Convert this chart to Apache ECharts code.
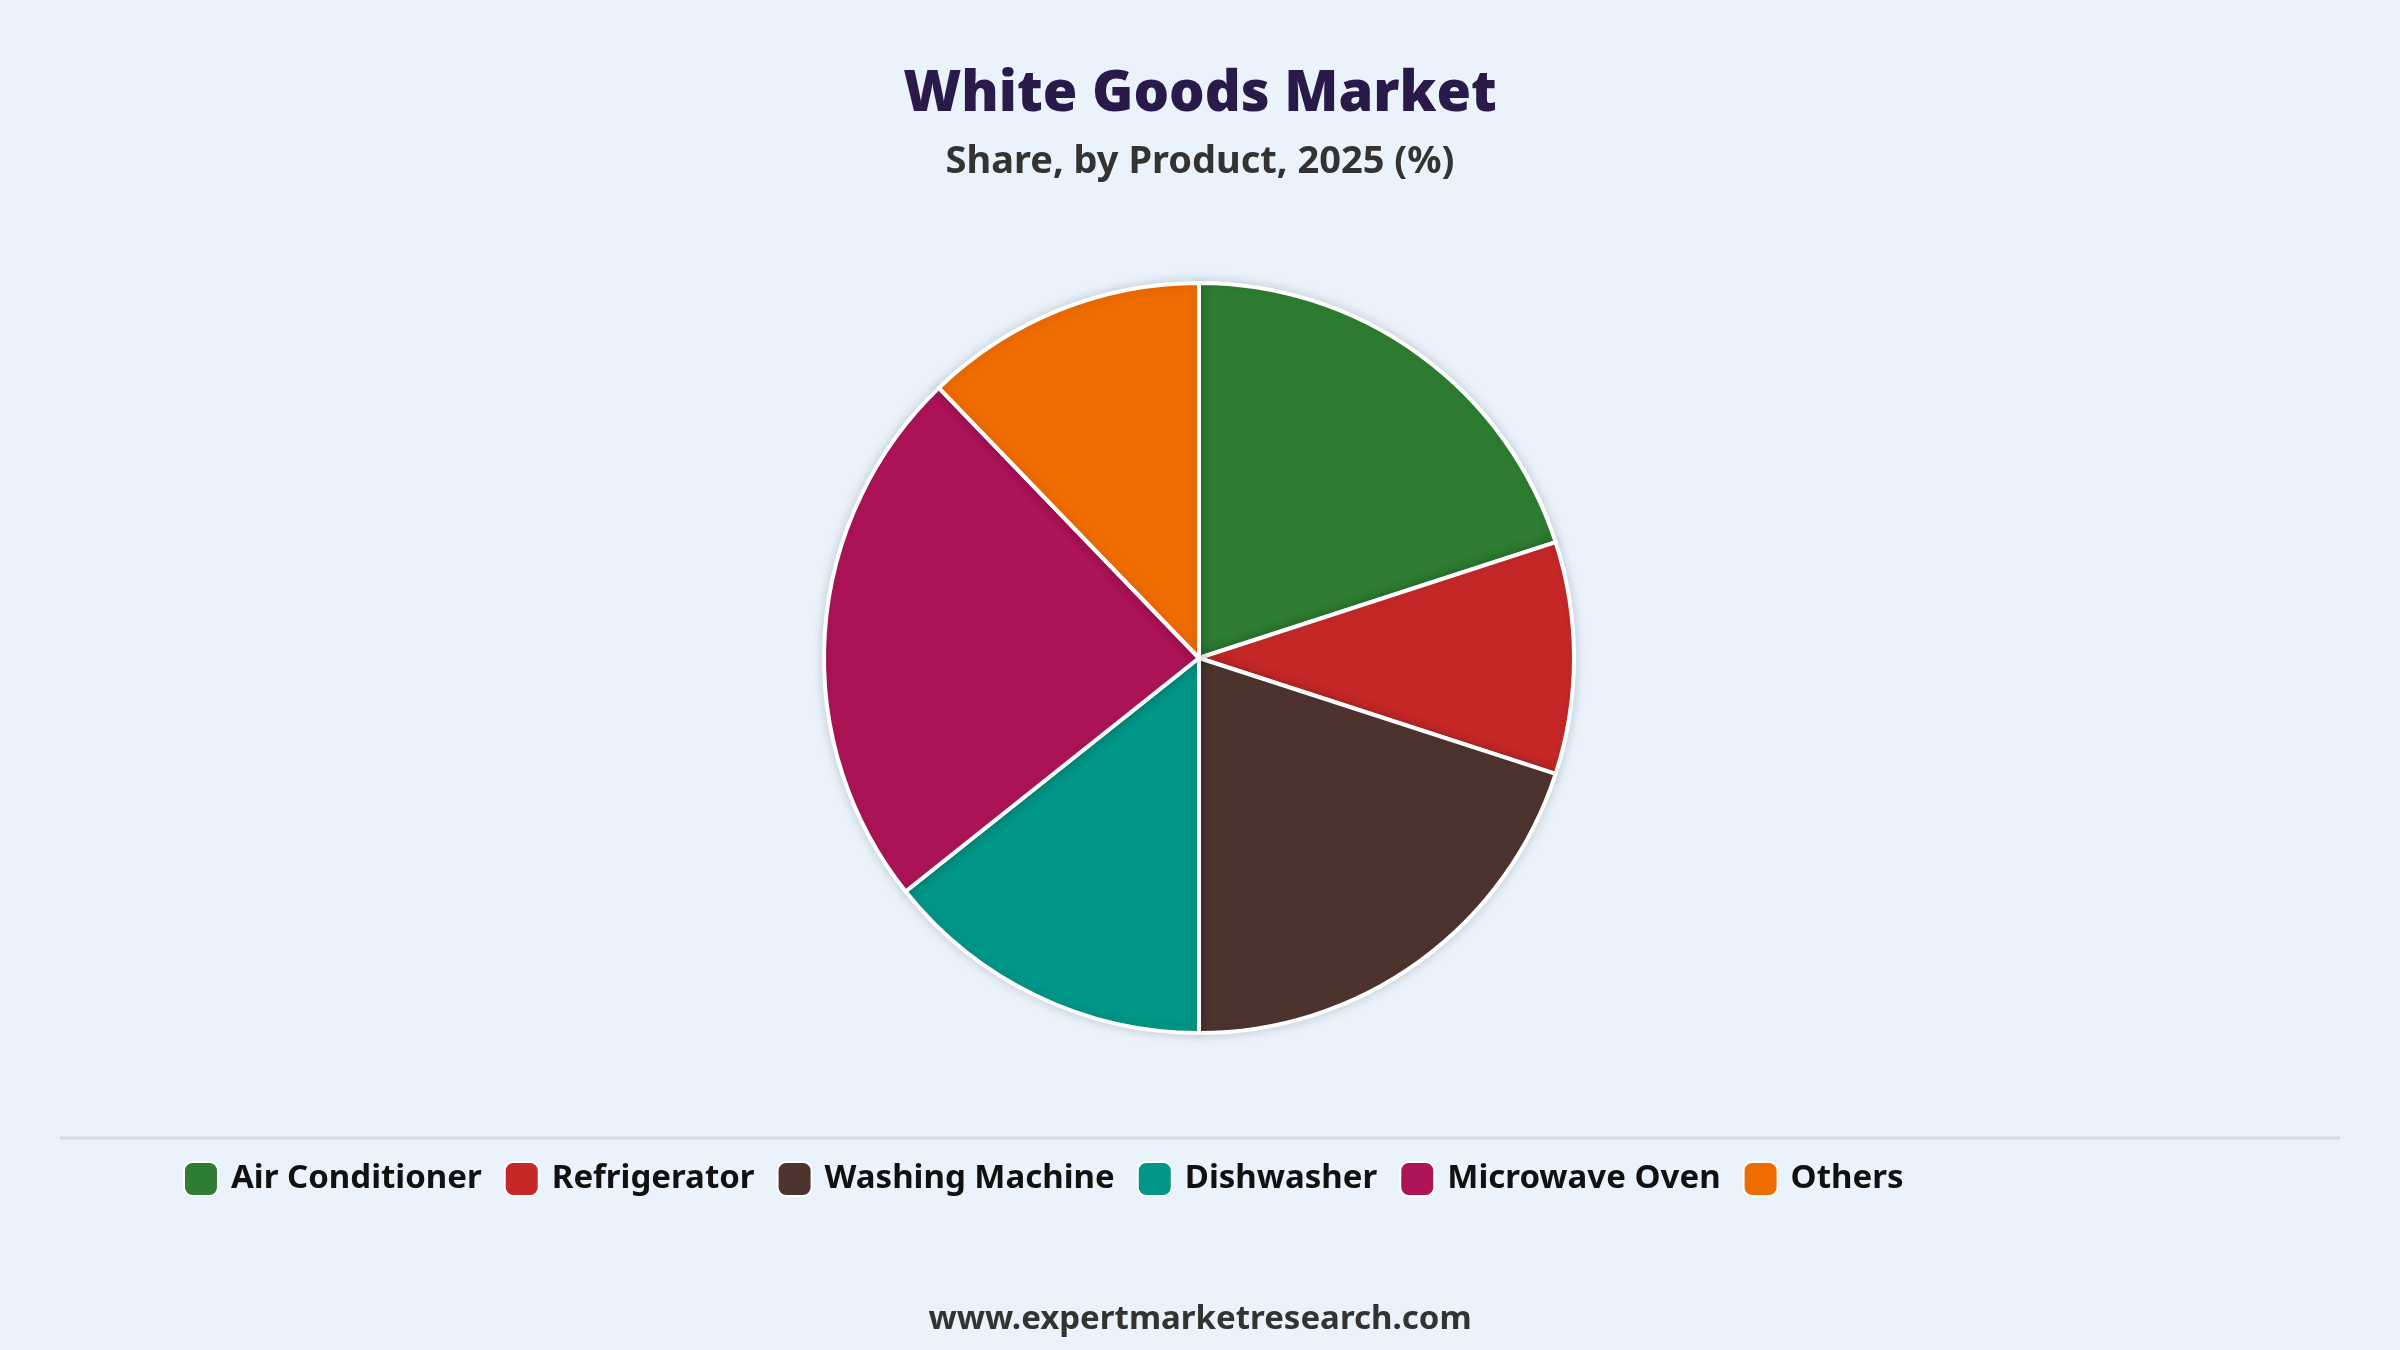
<!DOCTYPE html>
<html><head><meta charset="utf-8">
<script src="https://cdn.jsdelivr.net/npm/echarts@6/dist/echarts.min.js"></script>
<style>html,body{margin:0;padding:0;background:#eaf2fb;}#c{width:2400px;height:1350px;}</style>
</head><body><div id="c"></div>
<script>
const categories = ["Air Conditioner","Refrigerator","Washing Machine","Dishwasher","Microwave Oven","Others"];
const shares = [20, 10, 20, 14.3, 23.5, 12.2];
const colors = ["#2e7d32","#c62828","#4e342e","#009688","#ad1457","#ef6c00"];
const chart = echarts.init(document.getElementById('c'));
chart.setOption({
  backgroundColor:'#eaf2fb',
  color: colors,
  title:[
    {text:'White Goods Market',left:'center',top:62,textStyle:{fontFamily:'Noto Sans',fontWeight:900,fontSize:56,color:'#2a1a4a'}},
    {text:'Share, by Product, 2025 (%)',left:'center',top:138,textStyle:{fontFamily:'Noto Sans',fontWeight:'bold',fontSize:38,color:'#333'}},
    {text:'www.expertmarketresearch.com',left:'center',top:1298,textStyle:{fontFamily:'Noto Sans',fontWeight:'bold',fontSize:33,color:'#333'}}
  ],
  legend:{
    left:178,top:1156,width:2100,orient:'horizontal',
    icon:'roundRect',itemWidth:34,itemHeight:34,itemGap:22,
    data:categories,
    formatter:'{a|{name}}',
    textStyle:{fontFamily:'Noto Sans',fontWeight:'bold',fontSize:33,color:'#111',
      rich:{a:{width:346,fontFamily:'Noto Sans',fontWeight:'bold',fontSize:33,color:'#111',padding:[0,0,0,8]}}}
  },
  graphic:[{type:'line',shape:{x1:60,y1:1138,x2:2340,y2:1138},style:{stroke:'#d6dbe0',lineWidth:3}}],
  series:[{
    type:'pie',center:[1199,658],radius:[0,375],startAngle:90,clockwise:true,
    label:{show:false},labelLine:{show:false},
    itemStyle:{borderColor:'#fff',borderWidth:4,shadowBlur:12,shadowColor:'rgba(0,0,0,0.15)'},
    data:categories.map((n,i)=>({name:n,value:shares[i]}))
  }]
});
</script></body></html>
